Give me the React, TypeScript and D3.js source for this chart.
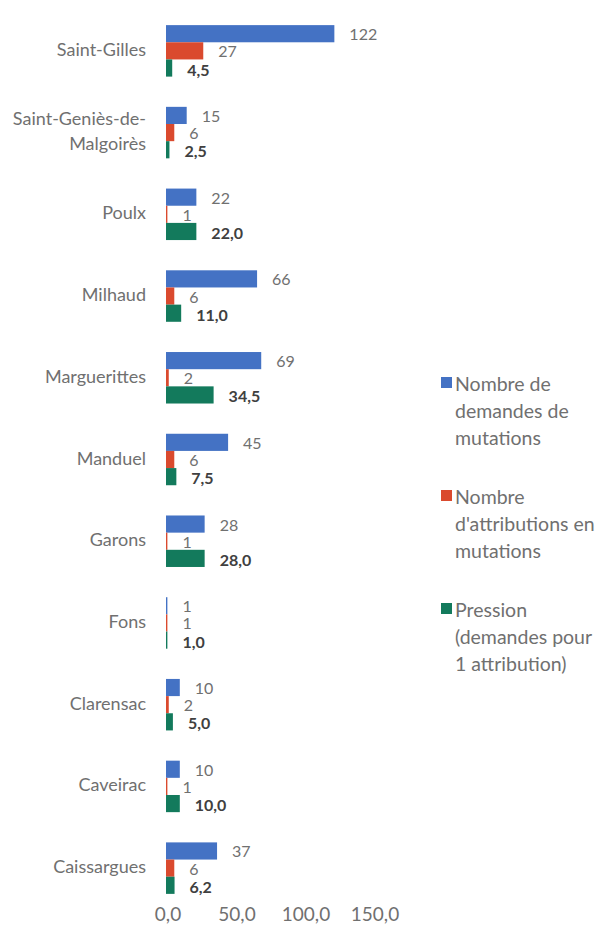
import React from 'react';
import * as d3 from 'd3';

const communes = ['Saint-Gilles', 'Saint-Geniès-de-Malgoirès', 'Poulx', 'Milhaud', 'Marguerittes', 'Manduel', 'Garons', 'Fons', 'Clarensac', 'Caveirac', 'Caissargues'];
const communeLines = [['Saint-Gilles'], ['Saint-Geniès-de-', 'Malgoirès'], ['Poulx'], ['Milhaud'], ['Marguerittes'], ['Manduel'], ['Garons'], ['Fons'], ['Clarensac'], ['Caveirac'], ['Caissargues']];
const demandes = [122, 15, 22, 66, 69, 45, 28, 1, 10, 10, 37];
const attributions = [27, 6, 1, 6, 2, 6, 1, 1, 2, 1, 6];
const pression = [4.5, 2.5, 22.0, 11.0, 34.5, 7.5, 28.0, 1.0, 5.0, 10.0, 6.2];
const xTicks = [0, 50, 100, 150];

const seriesKeys = ['demandes', 'attributions', 'pression'];
const seriesColors = ['#4472C4', '#DA4A2E', '#137A5C'];
const legendLines = [
  ['Nombre de', 'demandes de', 'mutations'],
  ['Nombre', "d'attributions en", 'mutations'],
  ['Pression', '(demandes pour', '1 attribution)'],
];

const W = 613;
const H = 944;
const FONT = 'Lato, "Open Sans", sans-serif';
const GREY = '#707070';

export default function App() {
  const x = d3.scaleLinear().domain([0, 150]).range([166, 373]);
  const y0 = d3.scaleBand<string>().domain(communes).range([10, 909]).paddingInner(0.37).paddingOuter(0.185);
  const y1 = d3.scaleBand<string>().domain(seriesKeys).range([0, y0.bandwidth()]);
  const fmt = (v: number) => v.toFixed(1).replace('.', ',');

  const values = [demandes, attributions, pression];

  return (
    <svg width={W} height={H} style={{ position: 'absolute', left: 0, top: 0, background: '#fff' }} fontFamily={FONT}>
      {communes.map((c, i) => {
        const gy = y0(c)!;
        const lines = communeLines[i];
        const cy = gy + y0.bandwidth() / 2 - 2;
        return (
          <g key={c}>
            <text x={146} y={cy - ((lines.length - 1) * 25) / 2} textAnchor="end" fontSize={18} fill={GREY} dominantBaseline="central">
              {lines.map((l, k) => (
                <tspan key={k} x={146} dy={k === 0 ? 0 : 25}>{l}</tspan>
              ))}
            </text>
            {seriesKeys.map((s, j) => {
              const v = values[j][i];
              const by = gy + y1(s)!;
              return (
                <g key={s}>
                  <rect x={x(0)} y={by} width={x(v) - x(0)} height={y1.bandwidth()} fill={seriesColors[j]} />
                  <text
                    x={x(v) + 15}
                    y={by + y1.bandwidth() / 2 + (j === 2 ? 1 : 0)}
                    dominantBaseline="central"
                    fontSize={16}
                    fontWeight={j === 2 ? 'bold' : 'normal'}
                    fill={j === 2 ? '#404040' : GREY}
                  >
                    {j === 2 ? fmt(v) : String(v)}
                  </text>
                </g>
              );
            })}
          </g>
        );
      })}

      {xTicks.map((t) => (
        <text key={t} x={x(t) + 2} y={913} textAnchor="middle" dominantBaseline="central" fontSize={19} fill={GREY}>
          {fmt(t)}
        </text>
      ))}

      {legendLines.map((lines, i) => {
        const ly = 383 + i * 113;
        return (
          <g key={i}>
            <rect x={441} y={ly - 6} width={11} height={11} fill={seriesColors[i]} />
            {lines.map((l, k) => (
              <text key={k} x={455} y={ly + k * 27} dominantBaseline="central" fontSize={19.5} fill={GREY}>
                {l}
              </text>
            ))}
          </g>
        );
      })}
    </svg>
  );
}
